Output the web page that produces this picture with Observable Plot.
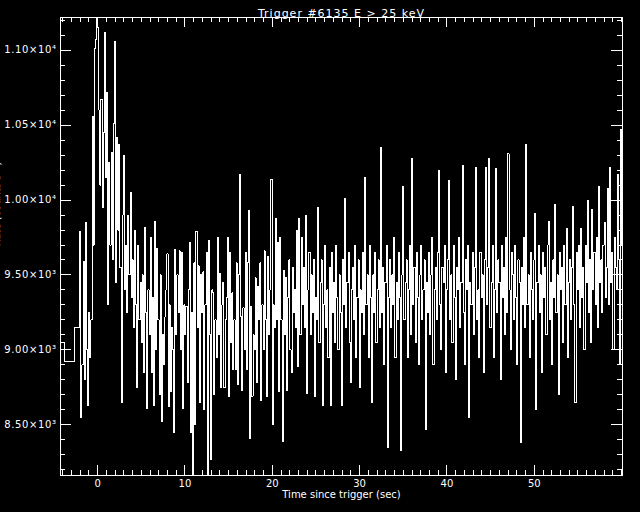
<!DOCTYPE html>
<html><head><meta charset="utf-8">
<script src="https://cdn.jsdelivr.net/npm/d3@7"></script>
<script src="https://cdn.jsdelivr.net/npm/@observablehq/plot@0.6"></script>
<style>html,body{margin:0;padding:0;background:#000;} svg{display:block}</style>
</head><body><div id="chart"></div>
<script>
const title = "Trigger #6135 E > 25 keV";
const xLabel = "Time since trigger (sec)";
const yLabel = "Rate (counts s\u207B\u00B9)";

// pre-trigger 1.024 s bins (start time, rate)
const coarseStart = [-4.86, -3.81, -2.70];
const coarseRates = [9053, 8920, 9147];

// fine-resolution bins after -2.048 s
const fineStart = -2.048;
const fineStep = 0.128;
const fineRates = [
9790,8550,8900,9590,8800,9850,9000,8630,9250,8950,
9200,10560,9700,11013,11070,11260,11150,10600,10100,10670,
9950,10450,11120,10150,10720,9300,10250,9700,10320,9600,
10510,11060,9450,10420,9800,10370,9550,8650,9900,10300,
9400,9700,9250,9900,9500,10050,9350,9600,9150,9800,
9300,8750,9700,9200,9450,9050,9500,8850,9820,9250,
8610,9400,9100,9750,8850,9350,8630,9860,9000,9680,
9200,8700,9500,8520,9100,8900,9220,9400,9640,8620,
9300,8720,9150,9000,8450,9670,9100,9500,9250,9660,
9000,9650,8610,9300,9100,9290,8780,9400,9720,8450,
9250,8100,9580,8500,9790,9150,9560,8650,9500,9250,
9520,8600,9300,9650,8130,9730,9100,8270,9400,9380,
8700,9200,8950,9750,9100,9510,8750,9300,9450,8750,
9200,9350,9750,8690,9650,9050,9380,8870,9200,8870,
9580,8770,9500,10170,9220,8730,9280,9000,9650,8870,
9580,9930,8410,9290,8690,9100,9000,9480,8780,9420,
9200,9580,8660,9300,9000,9660,9200,8690,9620,9100,
9400,10140,8500,9300,9150,9880,9200,9720,8720,9750,
9200,8390,9530,9100,9480,8730,9350,9600,9000,8850,
9550,9250,9400,9150,9800,8890,9880,9100,9750,
9300,9550,9150,9900,8710,9400,9650,9100,9500,9250,
9600,8690,9350,9200,9950,9050,9450,9600,8630,9300,
9700,9150,9400,8950,9550,8630,9650,9250,9450,9050,
9700,9350,9000,9500,9250,8630,9600,9300,10010,9150,
9450,9650,9050,8780,9400,9550,9200,9700,8950,9350,
9600,8750,9400,9250,9650,9100,10150,9300,9500,8950,
9700,9350,8650,9500,9250,9650,9050,9400,9600,9150,
10350,9250,9550,8900,9450,9700,8350,9350,9600,9150,
9500,9300,9750,8950,9450,9200,9650,9350,8330,9500,
10090,9200,9450,9600,8950,9400,9700,9100,10280,9300,
9550,9050,9650,9350,8900,9500,9700,9200,9400,9600,
8470,9450,9250,9650,9100,9500,9750,8900,9400,9550,
9200,9650,10200,9300,9000,9550,9450,9700,8850,9400,
9600,10130,9200,9500,9050,9700,9350,8800,9550,9400,
9750,9150,9450,10230,9250,8900,9600,9400,9700,8550,
9450,9300,9650,9100,9550,10220,9200,9400,8950,9650,
9350,9500,8850,9600,10220,9300,9550,10280,9150,9450,
9700,8950,9400,10210,9250,9600,9450,8800,9700,9350,
9550,9100,9750,9250,10310,9400,9000,9650,9500,9200,
9700,9350,8900,9600,9450,8380,9550,9300,9750,9150,
10370,9300,9500,8950,9650,9400,9200,9600,9910,8600,
9450,9700,9250,9500,8850,9650,9350,9550,9100,9700,
9860,9200,9450,8900,9600,9350,9970,9250,9500,8700,
9650,9400,9550,9050,9700,9300,9810,8950,9450,9600,
9200,9550,9960,9300,8650,9650,9400,9700,9150,9810,
9350,9550,9000,9700,9450,10000,9250,9600,9050,9940,
9400,9650,9300,9750,9150,10090,9450,9600,9250,9700,
9850,9350,9550,10080,9300,10220,9450,9650,9000,9750,
9550,9400,10170,9600,8900,10470,9700
];

const xMajorTicks = [0, 10, 20, 30, 40, 50];
const xTickLabels = ["0", "10", "20", "30", "40", "50"];
const xMinorTicks = [-4,-3,-2,-1,0,1,2,3,4,5,6,7,8,9,10,11,12,13,14,15,16,17,18,19,20,21,22,23,24,25,26,27,28,29,30,31,32,33,34,35,36,37,38,39,40,41,42,43,44,45,46,47,48,49,50,51,52,53,54,55,56,57,58,59,60];
const yMajorTicks = [8500, 9000, 9500, 10000, 10500, 11000];
const yTickLabels = ["8.50\u00D710\u00B3", "9.00\u00D710\u00B3", "9.50\u00D710\u00B3", "1.00\u00D710\u2074", "1.05\u00D710\u2074", "1.10\u00D710\u2074"];
const yMinorTicks = [8200,8300,8400,8500,8600,8700,8800,8900,9000,9100,9200,9300,9400,9500,9600,9700,9800,9900,10000,10100,10200,10300,10400,10500,10600,10700,10800,10900,11000,11100,11200];

// build step series
const series = coarseStart.map((t, i) => ({t, v: coarseRates[i]}))
  .concat(fineRates.map((v, i) => ({t: fineStart + i * fineStep, v})));
series.push({t: fineStart + fineRates.length * fineStep, v: fineRates[fineRates.length - 1]});

const W = 640, H = 512, mL = 60, mR = 18, mT = 17, mB = 37;
const fw = W - mL - mR, fh = H - mT - mB;

const chart = Plot.plot({
  width: W, height: H,
  marginLeft: mL, marginRight: mR, marginTop: mT, marginBottom: mB,
  style: {background: "#000", color: "#fff", fontFamily: "DejaVu Sans, sans-serif", fontSize: "10px"},
  x: {domain: [-4.25, 60.1], axis: null},
  y: {domain: [8163, 11217], axis: null},
  marks: [
    Plot.line(series, {x: "t", y: "v", curve: "step-after", stroke: "#fff", strokeWidth: 1, clip: true, shapeRendering: "crispEdges"}),
    Plot.frame({stroke: "#fff", shapeRendering: "crispEdges"}),
    Plot.tickX(xMinorTicks, {x: d => d, stroke: "#fff", insetTop: fh - 5, shapeRendering: "crispEdges"}),
    Plot.tickX(xMinorTicks, {x: d => d, stroke: "#fff", insetBottom: fh - 5, shapeRendering: "crispEdges"}),
    Plot.tickX(xMajorTicks, {x: d => d, stroke: "#fff", insetTop: fh - 10, shapeRendering: "crispEdges"}),
    Plot.tickX(xMajorTicks, {x: d => d, stroke: "#fff", insetBottom: fh - 10, shapeRendering: "crispEdges"}),
    Plot.tickY(yMinorTicks, {y: d => d, stroke: "#fff", insetRight: fw - 5, shapeRendering: "crispEdges"}),
    Plot.tickY(yMinorTicks, {y: d => d, stroke: "#fff", insetLeft: fw - 5, shapeRendering: "crispEdges"}),
    Plot.tickY(yMajorTicks, {y: d => d, stroke: "#fff", insetRight: fw - 11, shapeRendering: "crispEdges"}),
    Plot.tickY(yMajorTicks, {y: d => d, stroke: "#fff", insetLeft: fw - 11, shapeRendering: "crispEdges"}),
    Plot.text(xMajorTicks, {x: d => d, frameAnchor: "bottom", dy: 11, text: (d, i) => xTickLabels[i], fontSize: 10}),
    Plot.text(yMajorTicks, {y: d => d, frameAnchor: "left", dx: -4, textAnchor: "end", text: (d, i) => yTickLabels[i], fontSize: 10}),
    Plot.text([title], {frameAnchor: "top", dy: -8.5, text: d => d, fontSize: 11}),
    Plot.text([xLabel], {frameAnchor: "bottom", dy: 22.5, text: d => d, fontSize: 10}),
    Plot.text([yLabel], {frameAnchor: "left", dx: -61, rotate: -90, lineAnchor: "bottom", text: d => d, fontSize: 10})
  ]
});
// wider glyph spacing like the original stroke font
d3.select(chart).selectAll("text").each(function() {
  const s = this.textContent;
  if (s === title) this.setAttribute("letter-spacing", "1");
  else if (yTickLabels.includes(s)) this.setAttribute("letter-spacing", "0.6");
});
document.getElementById("chart").appendChild(chart);
</script>
</body></html>
